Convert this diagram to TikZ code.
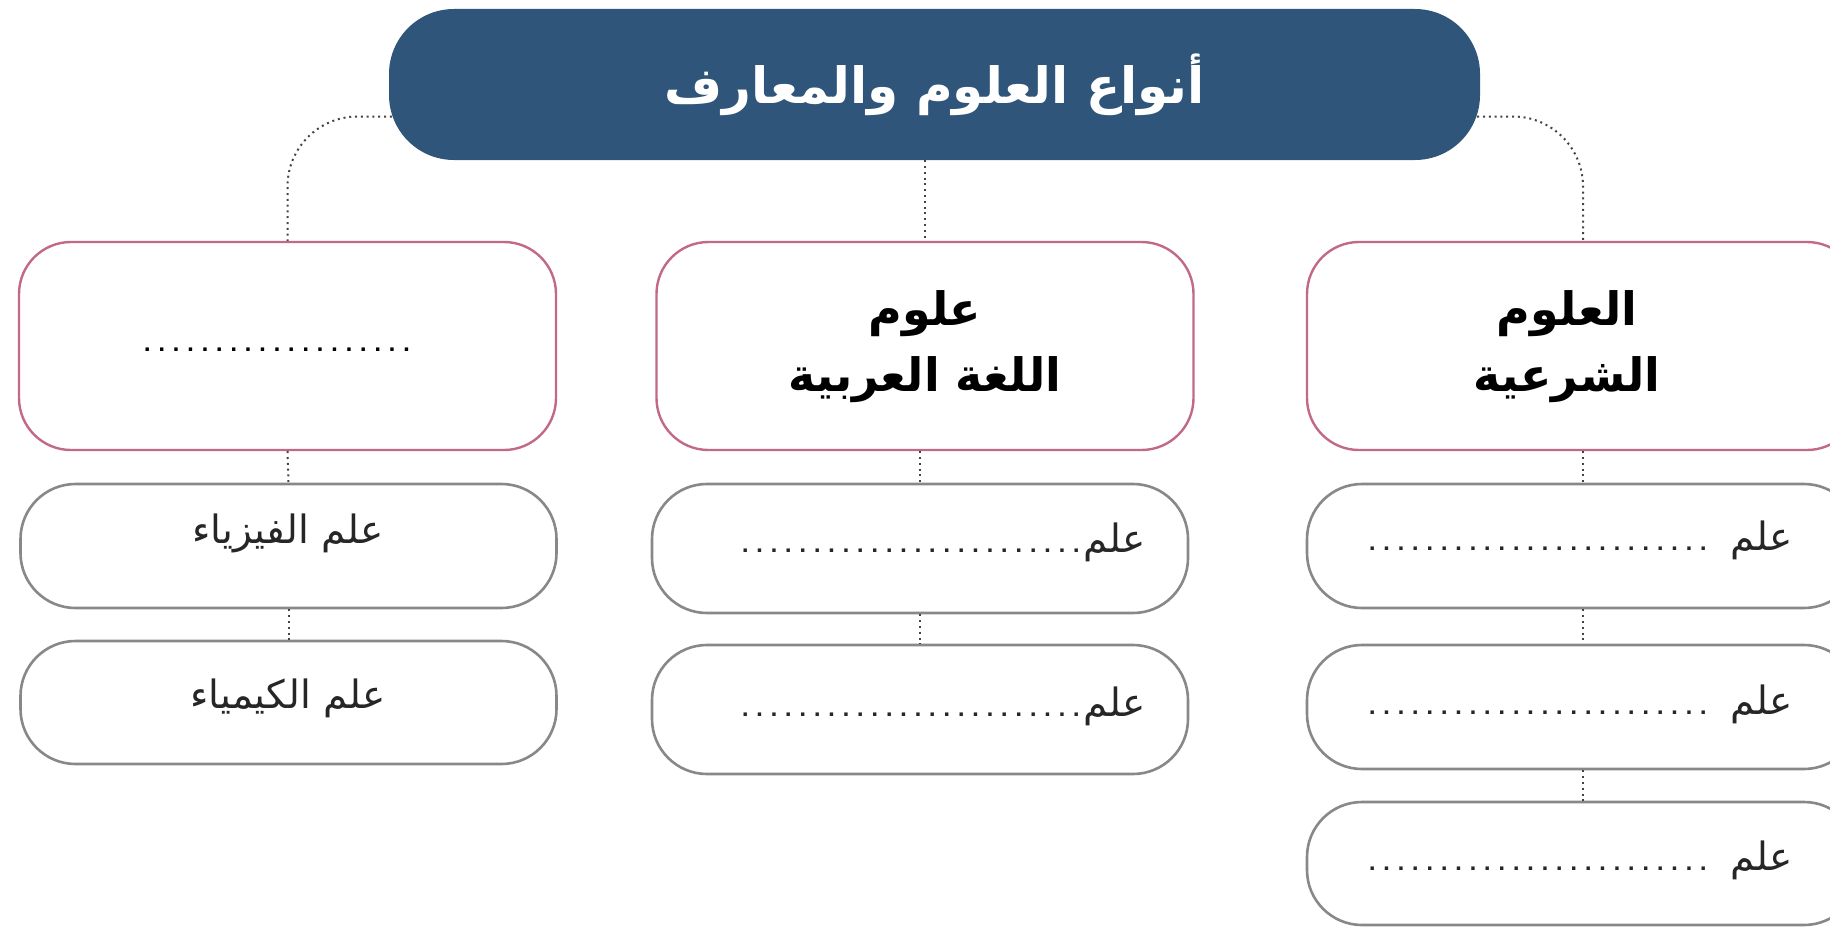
\documentclass[tikz,border=0pt]{standalone}
\usepackage{fontspec}
\newfontfamily\arabicfont[Script=Arabic]{DejaVu Sans}
\newfontfamily\dotfont{Liberation Mono}
\TeXXeTstate=1
\usetikzlibrary{calc}
\definecolor{titleblue}{HTML}{2F567A}
\definecolor{pinkline}{HTML}{C26A84}
\definecolor{grayline}{HTML}{888888}
\definecolor{dotgray}{HTML}{444444}
\newcommand{\dotsrow}[1]{{\dotfont\bfseries\fontsize{24}{24}\selectfont\foreach\i in {1,...,#1}{.}}}
\begin{document}
\begin{tikzpicture}[x=1pt,y=-1pt,
  titlebox/.style={fill=titleblue, draw=none, rounded corners=65pt, minimum width=1091pt, minimum height=151pt, inner sep=0pt, text=white, font=\arabicfont\bfseries\fontsize{50}{60}\selectfont},
  headbox/.style={draw=pinkline, line width=2.4pt, rounded corners=52pt, fill=white, minimum width=537pt, minimum height=208pt, inner sep=0pt},
  itembox/.style={draw=grayline, line width=2.6pt, rounded corners=55pt, fill=white, minimum width=536pt, minimum height=124pt, inner sep=0pt},
  headtext/.style={align=center, inner sep=0pt, font=\arabicfont\bfseries\fontsize{46}{66}\selectfont},
  itemtext/.style={inner sep=0pt, font=\arabicfont\fontsize{39}{46}\selectfont, text=black!85},
  conn/.style={draw=dotgray, line width=2pt, dash pattern=on 2pt off 3.8pt}
]
\useasboundingbox (0,0) rectangle (1830,934);
\clip (0,0) rectangle (1830,934);

% title
\node[titlebox] (title) at (934.5,84.5) {\beginR أنواع العلوم والمعارف\endR};

% level 1
\node[headbox] (pinkL) at (287.5,346) {};
\node[headbox] (pinkM) at (925,346) {};
\node[headbox, minimum width=552pt] (pinkR) at (1583,346) {};

\node[inner sep=0pt] (hL) at (277,350) {\dotsrow{19}};
\node[headtext] (hM) at (925,347) {\beginR علوم\endR\\\beginR اللغة العربية\endR};
\node[headtext] (hR) at (1567,347) {\beginR العلوم\endR\\\beginR الشرعية\endR};

% level 2
\node[itembox] (gL1) at (288.5,546) {};
\node[itembox, minimum height=123pt] (gL2) at (288.5,702.5) {};
\node[itembox, minimum height=129pt] (gM1) at (920,548.5) {};
\node[itembox, minimum height=129pt] (gM2) at (920,709.5) {};
\node[itembox, minimum width=552pt] (gR1) at (1583,546) {};
\node[itembox, minimum width=552pt] (gR2) at (1583,707) {};
\node[itembox, minimum width=552pt, minimum height=123pt] (gR3) at (1583,863.5) {};

\node[itemtext] (tL1) at (288,533) {\beginR علم الفيزياء\endR};
\node[itemtext] (tL2) at (288,698) {\beginR علم الكيمياء\endR};
\node[itemtext, anchor=east] (tM1) at (1146,542) {\dotsrow{24}\beginR علم\endR};
\node[itemtext, anchor=east] (tM2) at (1146,706) {\dotsrow{24}\beginR علم\endR};
\node[itemtext, anchor=east] (tR1) at (1793,540) {\dotsrow{24}\hspace{20pt}\beginR علم\endR};
\node[itemtext, anchor=east] (tR2) at (1793,704) {\dotsrow{24}\hspace{20pt}\beginR علم\endR};
\node[itemtext, anchor=east] (tR3) at (1793,860) {\dotsrow{24}\hspace{20pt}\beginR علم\endR};

% connectors
\draw[conn, rounded corners=70pt] ($(title.west)+(3,32)$) -| (pinkL.north);
\draw[conn] (title.south -| pinkM.north) -- (pinkM.north);
\draw[conn, rounded corners=70pt] ($(title.east)+(-3,32)$) -| (pinkR.north);

\draw[conn] (pinkL.south) -- (gL1.north);
\draw[conn] (gL1.south) -- (gL2.north);
\draw[conn] (pinkM.south -| gM1.north) -- (gM1.north);
\draw[conn] (gM1.south) -- (gM2.north);
\draw[conn] (pinkR.south) -- (gR1.north);
\draw[conn] (gR1.south) -- (gR2.north);
\draw[conn] (gR2.south) -- (gR3.north);
\end{tikzpicture}
\end{document}
